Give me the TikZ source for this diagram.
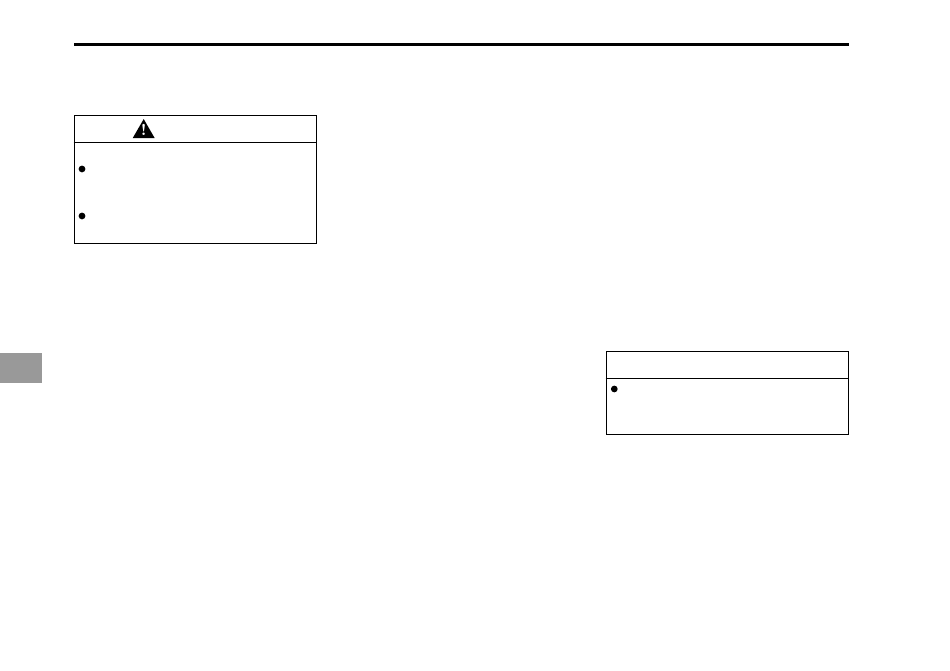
\documentclass[tikz,border=0pt]{standalone}
\usepackage{tikz}
\usetikzlibrary{shapes.geometric}

\begin{document}
\begin{tikzpicture}[x=0.02cm,y=-0.02cm,
  every node/.style={outer sep=0pt, inner sep=0pt},
  notebox/.style={draw=black, line width=0.6pt, minimum width=4.84cm},
  bulletdot/.style={circle, fill=black, minimum size=0.135cm},
  warnsign/.style={regular polygon, regular polygon sides=3, fill=black, minimum size=0.51cm}]
\useasboundingbox (0,0) rectangle (950,671);

\node[fill=black, minimum width=15.5cm, minimum height=0.055cm] (toprule) at (461.2,44.5) {};
\node[fill=black!40, minimum width=0.84cm, minimum height=0.59cm] (sidetab) at (21,368.2) {};

\node[notebox, minimum height=2.56cm] (warnbox) at (195.3,179.3) {};
\coordinate (warnleft) at (73.5,142.3);
\coordinate (warnright) at (317,142.3);
\draw[line width=0.6pt] (warnleft) -- (warnright);
\node[warnsign] (warntri) at (143.7,131.8) {};
\node[text=white, font=\bfseries\small] (warnmark) at (143.7,130.3) {!};
\node[bulletdot] (warndot1) at (82,169) {};
\node[bulletdot] (warndot2) at (82,216) {};

\node[notebox, minimum height=1.652cm] (notebox2) at (727.3,393) {};
\coordinate (noteleft) at (605.5,378.3);
\coordinate (noteright) at (849,378.3);
\draw[line width=0.6pt] (noteleft) -- (noteright);
\node[bulletdot] (notedot) at (614.3,389) {};
\end{tikzpicture}
\end{document}
